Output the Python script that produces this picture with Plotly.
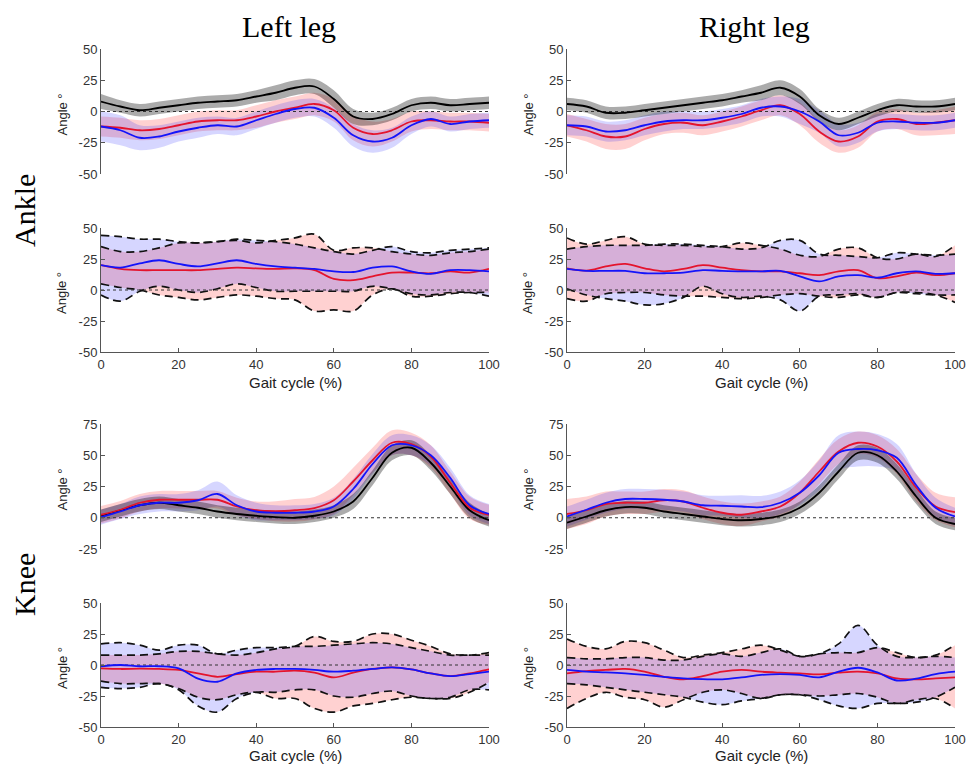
import plotly.graph_objects as go
from plotly.subplots import make_subplots

# ---------------- data ----------------
gait = [0, 5, 10, 15, 20, 25, 30, 35, 40, 45, 50, 55, 60, 65, 70, 75, 80, 85, 90, 95, 100]
x_ticks = [0, 20, 40, 60, 80, 100]
y_ticks_50 = [-50, -25, 0, 25, 50]
y_ticks_knee = [-25, 0, 25, 50, 75]

# Ankle kinematics - left leg (mean and half-width of band)
ank_L_black = [8, 4, 1, 3, 5, 7, 8, 9, 12, 15, 19, 20, 10, -4, -6, -2, 5, 7, 5, 6, 7]
ank_L_black_sd = [6, 5, 5, 5, 5, 5, 5, 5, 5, 6, 6, 6, 7, 6, 5, 5, 5, 5, 5, 5, 5]
ank_L_red = [-12, -13, -15, -14, -11, -8, -7, -7, -4, 0, 3, 6, 1, -13, -18, -15, -8, -7, -8, -8, -9]
ank_L_red_sd = [8, 8, 8, 8, 8, 8, 8, 8, 9, 9, 9, 9, 9, 10, 10, 9, 8, 7, 7, 7, 7]
ank_L_blue = [-12, -15, -21, -20, -16, -13, -11, -12, -7, -2, 2, 3, -5, -19, -24, -21, -11, -6, -10, -8, -7]
ank_L_blue_sd = [12, 12, 10, 9, 8, 8, 7, 7, 7, 7, 7, 7, 8, 9, 9, 8, 7, 6, 6, 6, 6]

# Ankle kinematics - right leg
ank_R_black = [6, 4, -1, -1, 1, 3, 5, 7, 9, 12, 15, 19, 12, -3, -10, -5, 1, 5, 4, 4, 6]
ank_R_black_sd = [5, 5, 5, 5, 5, 5, 5, 5, 5, 5, 6, 6, 6, 5, 5, 5, 5, 5, 5, 5, 5]
ank_R_red = [-11, -15, -20, -20, -14, -10, -9, -11, -8, -4, 1, 5, -2, -16, -24, -20, -8, -6, -10, -9, -7]
ank_R_red_sd = [9, 9, 10, 10, 9, 8, 8, 8, 8, 8, 8, 8, 9, 9, 9, 9, 8, 8, 9, 10, 11]
ank_R_blue = [-11, -12, -16, -15, -11, -8, -7, -7, -5, -2, 3, 4, 0, -8, -19, -17, -9, -8, -9, -9, -7]
ank_R_blue_sd = [8, 8, 8, 8, 8, 8, 7, 7, 7, 7, 7, 8, 10, 9, 9, 8, 7, 6, 6, 6, 6]

# Ankle differences - left leg
dank_L_red = [20, 17, 16, 16, 16, 16, 17, 18, 17.5, 17, 17.5, 16, 9, 8, 11, 14, 14, 13.5, 15, 14, 17]
dank_L_red_up = [35, 31, 31, 34, 38, 38, 39, 40, 38, 40, 42, 45, 32, 34, 34, 31, 29, 28, 30, 31, 33]
dank_L_red_lo = [5, 2, 0, -4, -6, -8, -6, -4, -5, -7, -8, -17, -16, -17, -4, 1, -5, -5, -3, -2, -2]
dank_L_blue = [20, 18, 21.5, 24, 21, 19, 21.5, 24, 21, 19, 18, 17, 15, 14.5, 18, 19, 15, 13, 16, 16, 15]
dank_L_blue_up = [44, 43, 41, 41, 39, 38, 39, 41, 40, 39, 37, 34, 31, 29, 32, 35, 31, 30, 32, 33, 34]
dank_L_blue_lo = [-4, -9, -1, 3, 0, -2, 1, 5, 2, -1, -1, -1, -1, -1, 3, 1, -3, -4, -2, -2, -5]

# Ankle differences - right leg
dank_R_red = [17.5, 15.7, 19, 21, 17.5, 15, 17, 20, 18, 16, 15, 15, 13.5, 12, 15, 16, 9.5, 11, 14, 12, 13.5]
dank_R_red_up = [42, 37, 40, 43, 37, 36, 36, 35, 35, 38, 36, 33, 28, 27, 33, 34, 26, 25, 29, 27, 36]
dank_R_red_lo = [-7, -9, -3, -2, -2, -4, -5, -5, -6, -7, -6, -4, -3, -5, -6, -4, -6, -2, -2, -4, -10]
dank_R_blue = [17, 15.4, 15.4, 15.4, 13.5, 13.5, 14, 16, 15.4, 15, 15, 15.4, 11, 7, 11, 12, 10, 13.5, 15, 13, 13.5]
dank_R_blue_up = [33, 35, 36, 36, 36, 37, 37, 36, 35, 33, 34, 40, 40, 29, 28, 27, 26, 30, 29, 28, 29]
dank_R_blue_lo = [1, -4, -7, -9, -12, -11, -6, 3, -3, -6, -5, -8, -17, -5, -4, -3, -6, -2, -3, -4, -4]

# Knee kinematics - left leg
knee_L_black = [1.6, 6, 10, 12, 10, 8, 5, 3, 1.6, 0.5, 0, 1.6, 5, 13, 32, 52, 56, 44, 25, 6, -2]
knee_L_black_sd = [5, 5, 5, 5, 5, 5, 5, 5, 5, 5, 5, 5, 5, 6, 6, 6, 6, 6, 6, 6, 5]
knee_L_red = [2.4, 6.4, 12, 14.4, 14.4, 14.4, 14.4, 9, 6, 5.3, 6, 7.7, 14, 29, 46, 60, 59, 49, 28, 8, 2.4]
knee_L_red_sd = [7, 7, 7, 7, 7, 7, 7, 7, 7, 8, 9, 9, 11, 11, 10, 10, 9, 9, 9, 9, 8]
knee_L_blue = [0.5, 5, 10, 12, 12, 14, 19, 10, 5, 4, 4, 5, 9, 23, 43, 58, 58, 50, 32, 10, 3]
knee_L_blue_sd = [6, 6, 7, 7, 7, 8, 10, 8, 7, 6, 6, 6, 7, 8, 8, 8, 8, 8, 8, 8, 8]

# Knee kinematics - right leg
knee_R_black = [-4, 1, 6, 8.5, 8, 5, 3, 1, -1, -2, -1, 1.6, 8, 20, 37, 52, 50, 37, 17, 0, -5]
knee_R_black_sd = [5, 5, 5, 5, 5, 5, 5, 5, 5, 5, 5, 5, 5, 6, 6, 6, 6, 6, 6, 5, 5]
knee_R_red = [3, 6, 11, 12, 12, 14, 13, 8, 4, 2.4, 5, 9, 20, 37, 53, 60, 57, 45, 24, 9, 4.5]
knee_R_red_sd = [12, 11, 10, 9, 9, 9, 9, 9, 9, 9, 8, 8, 9, 10, 10, 9, 9, 10, 11, 11, 12]
knee_R_blue = [1, 6.4, 12, 15, 15, 14.4, 13, 10, 9.6, 9, 8.5, 12, 20, 34, 52, 55, 54, 48, 26, 8, 1]
knee_R_blue_sd = [8, 8, 8, 8, 8, 8, 8, 8, 8, 9, 9, 9, 10, 12, 14, 14, 13, 11, 9, 8, 7]

# Knee differences - left leg
dknee_L_red = [-2.7, -3.2, -3, -3.2, -4, -6.8, -9.5, -7.3, -5.4, -5.4, -4.6, -6.2, -10, -6.2, -3.2, -1.9, -3.5, -6.8, -9, -6.8, -3.5]
dknee_L_red_up = [8, 8, 8, 9, 11, 11, 9, 8, 10, 13, 15, 23, 19, 19, 25, 25, 20, 15, 9, 8, 10]
dknee_L_red_lo = [-13, -15, -15, -15, -19, -26, -28, -24, -22, -27, -27, -35, -38, -33, -31, -28, -26, -27, -27, -22, -14]
dknee_L_blue = [-1, 0, -1, -1, -2.7, -11, -13.5, -6.8, -4, -3.2, -3.2, -4, -5.4, -4.6, -3.2, -1.9, -3.5, -6.8, -9, -7.3, -5.4]
dknee_L_blue_up = [17, 18, 16, 12, 16, 16, 9, 12, 14, 14, 15, 15, 16, 17, 18, 17, 14, 11, 8, 8, 8]
dknee_L_blue_lo = [-18, -19, -18, -15, -20, -33, -38, -27, -22, -22, -20, -20, -25, -26, -23, -21, -25, -27, -26, -20, -20]

# Knee differences - right leg
dknee_R_red = [-6.8, -4.9, -4, -3.2, -5.4, -9.5, -11.6, -9, -5.4, -4, -5.4, -6.2, -6.8, -7.6, -6.2, -5.4, -6.8, -10.8, -11.6, -10.8, -10]
dknee_R_red_up = [21, 15, 13, 19, 18, 12, 6, 8, 10, 13, 16, 12, 7, 9, 10, 10, 14, 10, 6, 8, 16]
dknee_R_red_lo = [-35, -27, -22, -26, -28, -34, -28, -22, -20, -23, -27, -24, -24, -25, -24, -23, -26, -31, -28, -27, -35]
dknee_R_blue = [-4, -5.4, -6, -6.8, -8, -9.5, -10.8, -11.4, -11.6, -10, -8, -7.3, -8, -10, -5.4, -2.2, -6, -12.5, -11, -7.3, -5.4]
dknee_R_blue_up = [6, 5, 5, 6, 6, 4, 4, 7, 9, 7, 10, 13, 7, 9, 17, 32, 16, 7, 6, 7, 6]
dknee_R_blue_lo = [-15, -16, -18, -20, -22, -24, -26, -30, -32, -29, -27, -24, -24, -28, -33, -35, -31, -31, -30, -26, -18]

# ---------------- styles ----------------
RED = "rgb(228,20,45)"
BLUE = "rgb(20,20,250)"
RED_FILL = "rgba(255,0,0,0.18)"
BLUE_FILL = "rgba(0,0,255,0.16)"
GRAY_FILL = "rgba(0,0,0,0.33)"
AXIS_COL = "#555555"
SANS = "Arial, Liberation Sans, sans-serif"
TICK_FONT = dict(family=SANS, size=13, color="#333333")
SERIF = "Times New Roman, Liberation Serif, serif"

fig = make_subplots(rows=4, cols=2)


def band(lo, hi, fill, row, col):
    fig.add_trace(go.Scatter(x=gait, y=lo, mode="lines", line=dict(width=0, shape="spline"),
                             showlegend=False, hoverinfo="skip"), row=row, col=col)
    fig.add_trace(go.Scatter(x=gait, y=hi, mode="lines", line=dict(width=0, shape="spline"),
                             fill="tonexty", fillcolor=fill, showlegend=False, hoverinfo="skip"),
                  row=row, col=col)


def line(y, color, row, col, width=1.8, dash=None):
    fig.add_trace(go.Scatter(x=gait, y=y, mode="lines",
                             line=dict(color=color, width=width, shape="spline", dash=dash),
                             showlegend=False, hoverinfo="skip"), row=row, col=col)


def zero(row, col):
    fig.add_trace(go.Scatter(x=[0, 100], y=[0, 0], mode="lines",
                             line=dict(color="#333333", width=1, dash="dot"),
                             showlegend=False, hoverinfo="skip"), row=row, col=col)


def kin_panel(row, col, blk, blk_sd, red, red_sd, blue, blue_sd):
    band([m - s for m, s in zip(red, red_sd)], [m + s for m, s in zip(red, red_sd)], RED_FILL, row, col)
    band([m - s for m, s in zip(blue, blue_sd)], [m + s for m, s in zip(blue, blue_sd)], BLUE_FILL, row, col)
    band([m - s for m, s in zip(blk, blk_sd)], [m + s for m, s in zip(blk, blk_sd)], GRAY_FILL, row, col)
    zero(row, col)
    line(blk, "black", row, col)
    line(red, RED, row, col)
    line(blue, BLUE, row, col)


def diff_panel(row, col, red, red_up, red_lo, blue, blue_up, blue_lo):
    band(red_lo, red_up, RED_FILL, row, col)
    band(blue_lo, blue_up, BLUE_FILL, row, col)
    for b in (red_up, red_lo, blue_up, blue_lo):
        line(b, "#111111", row, col, width=1.7, dash="8px,5px")
    zero(row, col)
    line(red, RED, row, col)
    line(blue, BLUE, row, col)


kin_panel(1, 1, ank_L_black, ank_L_black_sd, ank_L_red, ank_L_red_sd, ank_L_blue, ank_L_blue_sd)
kin_panel(1, 2, ank_R_black, ank_R_black_sd, ank_R_red, ank_R_red_sd, ank_R_blue, ank_R_blue_sd)
diff_panel(2, 1, dank_L_red, dank_L_red_up, dank_L_red_lo, dank_L_blue, dank_L_blue_up, dank_L_blue_lo)
diff_panel(2, 2, dank_R_red, dank_R_red_up, dank_R_red_lo, dank_R_blue, dank_R_blue_up, dank_R_blue_lo)
kin_panel(3, 1, knee_L_black, knee_L_black_sd, knee_L_red, knee_L_red_sd, knee_L_blue, knee_L_blue_sd)
kin_panel(3, 2, knee_R_black, knee_R_black_sd, knee_R_red, knee_R_red_sd, knee_R_blue, knee_R_blue_sd)
diff_panel(4, 1, dknee_L_red, dknee_L_red_up, dknee_L_red_lo, dknee_L_blue, dknee_L_blue_up, dknee_L_blue_lo)
diff_panel(4, 2, dknee_R_red, dknee_R_red_up, dknee_R_red_lo, dknee_R_blue, dknee_R_blue_up, dknee_R_blue_lo)

# ---------------- layout ----------------
# The page places the figure 8 px from the window's top-left corner,
# so the figure is 16 px smaller than the window and positions are shifted.
PAGE_OFF = 8
W, H = 978 - 2 * PAGE_OFF, 774 - 2 * PAGE_OFF


def px(p):
    return (p - PAGE_OFF) / W


def py(p):
    return 1 - (p - PAGE_OFF) / H


col_px = {1: (101, 489), 2: (567, 955)}
row_px = {1: (49, 174), 2: (228, 352), 3: (424, 549), 4: (603, 727)}

for r in range(1, 5):
    for c in (1, 2):
        x0, x1 = col_px[c]
        y0, y1 = row_px[r]
        show_x = r in (2, 4)
        yt = y_ticks_knee if r == 3 else y_ticks_50
        fig.update_xaxes(domain=[px(x0), px(x1)], range=[0, 100], showgrid=False, zeroline=False,
                         automargin=False,
                         showline=show_x, linecolor=AXIS_COL, linewidth=1,
                         ticks="inside" if show_x else "", ticklen=4, tickcolor=AXIS_COL,
                         tickvals=x_ticks, ticktext=[str(v) for v in x_ticks],
                         showticklabels=show_x, tickfont=TICK_FONT,
                         row=r, col=c)
        fig.update_yaxes(domain=[py(y1), py(y0)],
                         range=[-25, 75] if r == 3 else [-50, 50],
                         tickvals=yt, ticktext=[str(v) for v in yt], automargin=False,
                         showgrid=False, zeroline=False, showline=True, linecolor=AXIS_COL,
                         linewidth=1, ticks="inside", ticklen=4, tickcolor=AXIS_COL,
                         tickfont=TICK_FONT, row=r, col=c)

annotations = []
# column titles
annotations.append(dict(text="Left leg", x=px(289), y=py(26), xref="paper", yref="paper",
                        showarrow=False, font=dict(family=SERIF, size=30, color="black"),
                        xanchor="center", yanchor="middle"))
annotations.append(dict(text="Right leg", x=px(754), y=py(26), xref="paper", yref="paper",
                        showarrow=False, font=dict(family=SERIF, size=30, color="black"),
                        xanchor="center", yanchor="middle"))
# row titles
annotations.append(dict(text="Ankle", x=px(24), y=py(211), xref="paper", yref="paper",
                        showarrow=False, textangle=-90, font=dict(family=SERIF, size=30, color="black"),
                        xanchor="center", yanchor="middle"))
annotations.append(dict(text="Knee", x=px(24), y=py(585), xref="paper", yref="paper",
                        showarrow=False, textangle=-90, font=dict(family=SERIF, size=30, color="black"),
                        xanchor="center", yanchor="middle"))
# y-axis titles
for r in range(1, 5):
    y0, y1 = row_px[r]
    yc = (y0 + y1) / 2 + 3
    for c, xc in ((1, 62), (2, 528)):
        annotations.append(dict(text="Angle °", x=px(xc), y=py(yc), xref="paper", yref="paper",
                                showarrow=False, textangle=-90,
                                font=dict(family=SANS, size=13, color="#222"),
                                xanchor="center", yanchor="middle"))
# x-axis titles
for r, yp in ((2, 383), (4, 755)):
    for c in (1, 2):
        x0, x1 = col_px[c]
        annotations.append(dict(text="Gait cycle (%)", x=px((x0 + x1) / 2), y=py(yp),
                                xref="paper", yref="paper", showarrow=False,
                                font=dict(family=SANS, size=15, color="#222"),
                                xanchor="center", yanchor="middle"))

fig.update_layout(width=W, height=H, margin=dict(l=0, r=0, t=0, b=0),
                  paper_bgcolor="white", plot_bgcolor="white", showlegend=False,
                  annotations=annotations)

fig.write_html("out.html")
